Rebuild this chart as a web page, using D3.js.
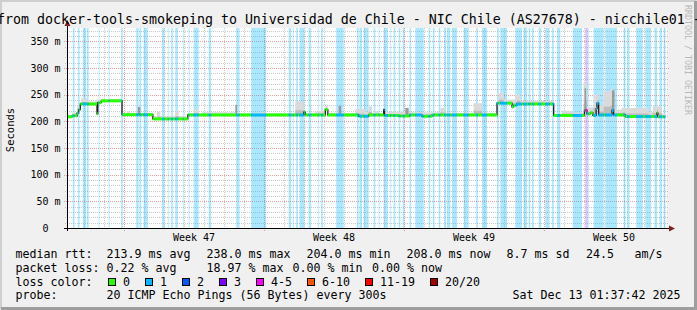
<!DOCTYPE html>
<html>
<head>
<meta charset="utf-8">
<script src="https://cdn.jsdelivr.net/npm/d3@7"></script>
<style>
  body { margin: 0; background: #fff; }
  svg text { font-family: "DejaVu Sans Mono", monospace; white-space: pre; fill: #000; }
</style>
</head>
<body>
<svg id="chart" width="697" height="310"></svg>
<script>
// 30 day window, hourly consolidated rrd
const graphStart = new Date(2025, 10, 13, 3, 36);
const graphEnd = new Date(2025, 11, 13, 3, 36);
const lastHour = 718;

const title = 'from docker-tools-smokeping to Universidad de Chile - NIC Chile (AS27678) - nicchile01 -';

// median rtt, ms: [hour it starts, value]
const medianSteps = [
  [0, 208.5], [6, 210.5], [12, 215.5], [14, 222], [16, 232.5], [36, 214], [37, 235], [41, 238.5],
  [66, 212.5], [103, 204.5], [145, 212], [284, 217], [286, 212], [310, 222], [313, 212],
  [350, 209.5], [362, 212], [380, 222], [381, 211], [398, 210], [411, 212], [426, 209.5],
  [438, 212], [516, 234], [534, 227], [536, 230], [540, 232.5], [584, 211], [621, 221],
  [624, 214], [628, 216], [631, 211], [635, 224], [636, 234], [638, 212], [654, 221],
  [656, 212], [670, 209], [708, 216], [709, 208.5]
];

// hours with lost pings: [start hour, hours, pings lost out of 20]
const lossEvents = [
  [7, 2, 1], [13, 2, 1], [19, 4, 1], [24, 2, 1], [38, 1, 1], [50, 1, 1], [65, 2, 1],
  [83, 3, 1], [87, 2, 1], [92, 5, 1], [114, 3, 1], [121, 1, 1], [125, 2, 1], [130, 3, 1],
  [139, 1, 1], [146, 1, 1], [152, 6, 1], [170, 3, 1], [203, 4, 1], [221, 18, 1],
  [266, 3, 1], [271, 1, 1], [275, 2, 1], [279, 6, 1], [290, 3, 1], [301, 1, 1], [305, 2, 1],
  [323, 9, 1], [348, 2, 1], [351, 3, 1], [356, 6, 1], [368, 2, 1], [374, 1, 1], [380, 5, 1],
  [388, 1, 1], [392, 2, 1], [398, 2, 1], [403, 2, 1], [411, 2, 1], [418, 10, 1], [434, 2, 1],
  [439, 2, 1], [446, 2, 1], [453, 2, 1], [456, 4, 1], [462, 6, 1], [476, 6, 1], [491, 2, 1],
  [498, 6, 1], [516, 2, 1], [520, 8, 1], [538, 8, 1], [548, 4, 1], [554, 2, 1], [558, 2, 1],
  [566, 3, 1], [574, 5, 1], [582, 2, 1], [588, 4, 1], [607, 11, 1], [622, 2, 4], [624, 2, 1],
  [632, 12, 1], [646, 14, 1], [668, 2, 1], [672, 3, 1], [683, 8, 1], [694, 7, 1], [705, 3, 1],
  [711, 3, 1], [716, 2, 1]
];

// ping spread: [start hour, hours, highest ms, dense]
const smokeBursts = [
  [0, 6, 212, 0], [6, 6, 216, 0], [12, 5, 228, 0], [17, 8, 243, 0], [25, 9, 237, 0],
  [34, 6, 241, 0], [41, 25, 241, 0], [66, 19, 216, 0], [72, 3, 219, 0], [85, 3, 227, 1],
  [88, 15, 216, 0], [103, 42, 209, 0], [108, 4, 218, 0], [130, 4, 220, 0], [145, 7, 215, 0],
  [152, 6, 222, 0], [162, 40, 217, 0], [202, 2, 231, 1], [204, 28, 215, 0], [232, 7, 217, 0],
  [239, 35, 215, 0], [274, 10, 237, 0], [284, 14, 216, 0], [298, 12, 220, 0], [310, 3, 228, 0],
  [313, 13, 216, 0], [326, 3, 229, 1], [329, 17, 215, 0], [346, 12, 223, 0], [358, 4, 218, 0],
  [362, 4, 228, 0], [366, 4, 216, 0], [370, 4, 219, 0], [374, 6, 215, 0], [380, 2, 224, 0],
  [382, 24, 218, 0], [406, 4, 225, 1], [410, 22, 217, 0], [432, 16, 217, 0], [448, 6, 225, 0],
  [454, 34, 216, 0], [488, 10, 234, 0], [498, 18, 216, 0], [516, 2, 240, 0], [518, 6, 253, 0],
  [524, 14, 241, 0], [538, 6, 250, 0], [544, 40, 238, 0], [584, 10, 214, 0], [594, 14, 220, 0],
  [608, 12, 216, 0], [620, 4, 272, 0], [621, 2, 262, 1], [624, 8, 226, 0], [632, 6, 250, 0],
  [638, 6, 230, 0], [644, 8, 256, 0], [652, 2, 262, 0], [654, 3, 258, 1], [657, 9, 222, 0],
  [666, 32, 225, 0], [698, 5, 218, 0], [703, 11, 228, 0], [714, 4, 214, 0]
];

const yTicks = [0, 50, 100, 150, 200, 250, 300, 350];
const yTickLabels = ['0  ', '50 m', '100 m', '150 m', '200 m', '250 m', '300 m', '350 m'];

const lossLabels = ['0', '1', '2', '3', '4-5', '6-10', '11-19', '20/20'];
const lossUpper = [0, 1, 2, 3, 5, 10, 19, 20];
const lossColors = ['#26ff00', '#00b8ff', '#0059ff', '#7e00ff', '#ff00ff', '#ff5500', '#ff0000', '#a10000'];

const rttLegend = ['median rtt:', '213.9 ms avg', '238.0 ms max', '204.0 ms min', '208.0 ms now', '8.7 ms sd', '24.5', 'am/s'];
const lossLegend = ['packet loss:', '0.22 % avg', '18.97 % max', '0.00 % min', '0.00 % now'];
const probeLegend = ['probe:', '20 ICMP Echo Pings (56 Bytes) every 300s', 'Sat Dec 13 01:37:42 2025'];

const W = 697, H = 310;
const pL = 67, pR = 667, pT = 28, pB = 228;

const svg = d3.select('#chart');

const x = d3.scaleTime().domain([graphStart, graphEnd]).range([pL, pR]);
const y = d3.scaleLinear().domain([0, 375]).range([pB, pT]);
const tOf = h => new Date(+graphStart + h * 36e5);

// background + 3d frame
svg.append('rect').attr('width', W).attr('height', H).attr('fill', '#f0f0f0');
svg.append('path').attr('d', `M0,0 H${W} L${W - 2},2 H2 V${H - 2} L0,${H} Z`).attr('fill', '#cfcfcf');
svg.append('rect').attr('x', W - 3).attr('y', 1).attr('width', 3).attr('height', H - 1).attr('fill', '#9e9e9e');
svg.append('rect').attr('x', 1).attr('y', H - 3).attr('width', W - 1).attr('height', 3).attr('fill', '#9e9e9e');

svg.append('rect').attr('x', pL).attr('y', pT).attr('width', pR - pL).attr('height', pB - pT).attr('fill', '#fff');

// grid
const grid = svg.append('g').attr('shape-rendering', 'crispEdges');
const minorCol = 'rgba(143,143,143,0.45)', majorCol = 'rgba(222,80,80,0.55)';
const minorY = d3.range(10, 375, 10).filter(v => v % 50 !== 0);
grid.selectAll('line.hmin').data(minorY).join('line')
  .attr('x1', pL - 2).attr('x2', pR + 2)
  .attr('y1', d => Math.round(y(d)) + 0.5).attr('y2', d => Math.round(y(d)) + 0.5)
  .attr('stroke', minorCol).attr('stroke-dasharray', '1,1');
grid.selectAll('line.hmaj').data(yTicks.slice(1)).join('line')
  .attr('x1', pL - 3).attr('x2', pR + 3)
  .attr('y1', d => Math.round(y(d)) + 0.5).attr('y2', d => Math.round(y(d)) + 0.5)
  .attr('stroke', majorCol).attr('stroke-dasharray', '1,1');

const weeks = d3.timeSunday.range(graphStart, graphEnd);
const days = d3.timeDay.range(graphStart, graphEnd).filter(d => d.getDay() !== 0);
grid.selectAll('line.vmin').data(days).join('line')
  .attr('x1', d => Math.round(x(d)) + 0.5).attr('x2', d => Math.round(x(d)) + 0.5)
  .attr('y1', pT).attr('y2', pB + 2)
  .attr('stroke', minorCol).attr('stroke-dasharray', '1,1');
grid.selectAll('line.vmaj').data(weeks).join('line')
  .attr('x1', d => Math.round(x(d)) + 0.5).attr('x2', d => Math.round(x(d)) + 0.5)
  .attr('y1', pT).attr('y2', pB + 3)
  .attr('stroke', majorCol).attr('stroke-dasharray', '1,1');

// per hour values
const binOf = n => lossUpper.findIndex(u => n <= u);
const hourly = d3.range(lastHour).map(h => {
  const median = medianSteps.filter(s => s[0] <= h).pop()[1];
  const ev = lossEvents.find(e => h >= e[0] && h < e[0] + e[1]);
  const spread = smokeBursts.filter(b => !b[3] && h >= b[0] && h < b[0] + b[1]);
  const topMs = Math.max(median + 1.5, d3.max(spread, b => b[2]) || 0);
  return { h, median, bin: binOf(ev ? ev[2] : 0), topMs };
});
const ended = hourly.concat([Object.assign({}, hourly[hourly.length - 1], { h: lastHour })]);

// loss background
svg.append('g').selectAll('rect').data(lossEvents).join('rect')
  .attr('x', d => x(tOf(d[0]))).attr('width', d => x(tOf(d[0] + d[1])) - x(tOf(d[0])))
  .attr('y', pT).attr('height', pB - pT)
  .attr('fill', d => lossColors[binOf(d[2])]).attr('fill-opacity', 0.33);

// smoke
const smoke = svg.append('g');
smoke.append('path').datum(ended)
  .attr('d', d3.area().curve(d3.curveStepAfter)
    .x(d => x(tOf(d.h))).y0(d => y(d.median - 1)).y1(d => y(d.topMs)))
  .attr('fill', '#dadada');
smoke.append('path').datum(ended)
  .attr('d', d3.area().curve(d3.curveStepAfter)
    .x(d => x(tOf(d.h))).y0(d => y(d.median - 1)).y1(d => y(d.median + (d.topMs - d.median) * 0.35)))
  .attr('fill', '#bdbdbd');
smoke.selectAll('rect').data(smokeBursts.filter(b => b[3])).join('rect')
  .attr('x', d => x(tOf(d[0]))).attr('width', d => x(tOf(d[0] + d[1])) - x(tOf(d[0])))
  .attr('y', d => y(d[2]))
  .attr('height', d => y(hourly[d[0]].median) - y(d[2]))
  .attr('fill', '#9a9a9a');

// median
svg.append('path').datum(ended)
  .attr('d', d3.line().curve(d3.curveStepAfter).x(d => x(tOf(d.h))).y(d => y(d.median)))
  .attr('fill', 'none').attr('stroke', '#202020').attr('stroke-width', 1.3);

const runs = [];
hourly.forEach(d => {
  const last = runs[runs.length - 1];
  if (last && last.ms === d.median && last.bin === d.bin) last.end = d.h + 1;
  else runs.push({ start: d.h, end: d.h + 1, ms: d.median, bin: d.bin });
});
svg.append('g').selectAll('line').data(runs).join('line')
  .attr('x1', d => x(tOf(d.start))).attr('x2', d => x(tOf(d.end)))
  .attr('y1', d => y(d.ms)).attr('y2', d => y(d.ms))
  .attr('stroke', d => lossColors[d.bin]).attr('stroke-width', 3);

// axes
const ax = svg.append('g').attr('shape-rendering', 'crispEdges');
ax.append('line').attr('x1', pL + 0.5).attr('x2', pL + 0.5).attr('y1', pB + 3).attr('y2', pT - 5)
  .attr('stroke', '#000');
ax.append('line').attr('x1', pL - 3).attr('x2', pR + 3).attr('y1', pB + 0.5).attr('y2', pB + 0.5)
  .attr('stroke', '#000');
svg.append('path').attr('d', `M${pL - 2.5},${pT - 2} L${pL + 0.5},${pT - 8} L${pL + 3.5},${pT - 2} Z`).attr('fill', '#7f1f1f');
svg.append('path').attr('d', `M${pR + 2},${pB - 2.5} L${pR + 8},${pB + 0.5} L${pR + 2},${pB + 3.5} Z`).attr('fill', '#7f1f1f');

svg.append('g').selectAll('text').data(yTicks).join('text')
  .attr('x', 60.5).attr('y', d => y(d) + 3.7)
  .attr('text-anchor', 'end').attr('font-size', 10)
  .text((d, i) => yTickLabels[i]);

svg.append('text').attr('transform', 'translate(13.5,130) rotate(-90)')
  .attr('text-anchor', 'middle').attr('font-size', 10.5).text('Seconds');

const weekLabel = d3.timeFormat('%V');
const weekMids = d3.timeSunday.range(d3.timeSunday.floor(graphStart), graphEnd)
  .map(d => new Date(+d + 3.5 * 864e5)).filter(d => d > graphStart && d < graphEnd);
svg.append('g').selectAll('text').data(weekMids).join('text')
  .attr('x', d => x(d)).attr('y', 241).attr('text-anchor', 'middle').attr('font-size', 10)
  .text(d => 'Week ' + weekLabel(d));

// title + watermark
svg.append('text').attr('x', -3).attr('y', 24).attr('font-size', 13.29).text(title);
svg.append('text').attr('transform', 'translate(684.5,5) rotate(90)')
  .attr('font-size', 8.3).style('fill', '#b8b8b8').text('RRDTOOL / TOBI OETIKER');

// legend
const lf = 11.63;
const rows = [
  { y: 258.3, items: rttLegend, xs: [15.5, 106.5, 206.5, 306.5, 406.5, 506.5, 586, 634.5] },
  { y: 271.7, items: lossLegend, xs: [15.5, 106.5, 206.5, 292.5, 372] },
  { y: 299, items: probeLegend, xs: [15.5, 106.5, 512.5] }
];
rows.forEach(r => {
  svg.append('g').selectAll('text').data(r.items).join('text')
    .attr('x', (d, i) => r.xs[i]).attr('y', r.y).attr('font-size', lf).text(d => d);
});
svg.append('text').attr('x', 15.5).attr('y', 285.5).attr('font-size', lf).text('loss color:');
let sx = 108.5;
const swatches = lossLabels.map(l => { const p = sx; sx += 15 + l.length * 7 + 15; return p; });
const sw = svg.append('g');
sw.selectAll('rect').data(lossColors).join('rect')
  .attr('x', (d, i) => swatches[i]).attr('y', 278.5).attr('width', 7).attr('height', 7)
  .attr('fill', d => d).attr('stroke', '#000').attr('stroke-width', 1);
sw.selectAll('text').data(lossLabels).join('text')
  .attr('x', (d, i) => swatches[i] + 14.5).attr('y', 285.5).attr('font-size', lf).text(d => d);
</script>
</body>
</html>
